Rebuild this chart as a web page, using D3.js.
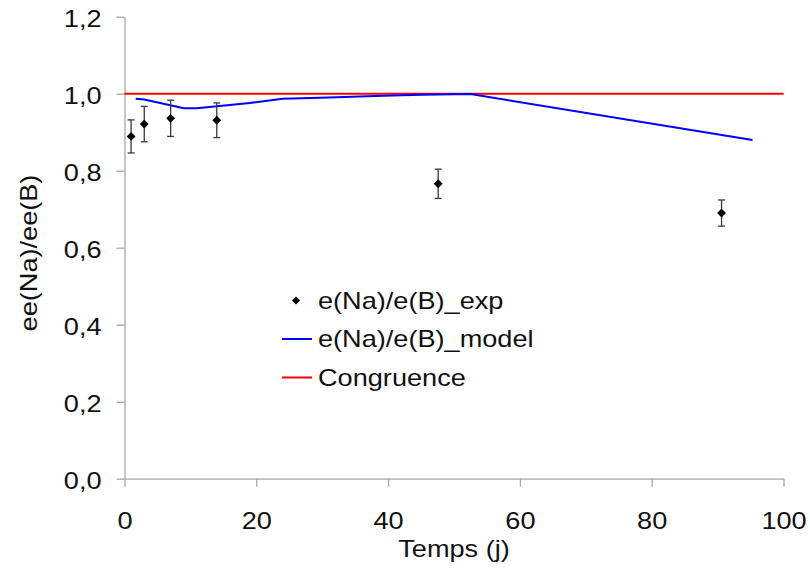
<!DOCTYPE html>
<html><head><meta charset="utf-8">
<script src="https://cdn.jsdelivr.net/npm/d3@7"></script>
<style>body{margin:0;background:#fff}svg{display:block}text{font-family:"Liberation Sans",Arial,sans-serif}</style>
</head><body>
<svg id="c" width="810" height="574"></svg>
<script>
const expX = [1, 3, 7, 14, 47.6, 90.6];
const expY = [0.889, 0.921, 0.936, 0.931, 0.766, 0.690];
const expErr = [0.043, 0.046, 0.047, 0.045, 0.038, 0.034];
const modelX = [1.7, 3, 9, 11, 19, 24, 31, 38, 45, 52.5, 95.3];
const modelY = [0.987, 0.985, 0.962, 0.962, 0.976, 0.987, 0.990, 0.994, 0.997, 0.999, 0.880];
const congX = [0, 100];
const congY = [1, 1];
const xTicks = [0, 20, 40, 60, 80, 100];
const yTicks = [0, 0.2, 0.4, 0.6, 0.8, 1.0, 1.2];
const legendLabels = ["e(Na)/e(B)_exp", "e(Na)/e(B)_model", "Congruence"];

const FS = 23, SX = 1.18;
const svg = d3.select("#c");
const x = d3.scaleLinear().domain([0, 100]).range([124.5, 783.5]);
const y = d3.scaleLinear().domain([0, 1.2]).range([478.7, 16.7]);
const fmt = d => d3.format(".1f")(d).replace(".", ",");

const xa = svg.append("g").attr("transform", `translate(0,${y(0)})`)
  .call(d3.axisBottom(x).tickValues(xTicks).tickSize(8).tickSizeOuter(0));
const ya = svg.append("g").attr("transform", `translate(${x(0)},0)`)
  .call(d3.axisLeft(y).tickValues(yTicks).tickFormat(fmt).tickSize(8).tickSizeOuter(0));
[xa, ya].forEach(a => {
  a.select(".domain").attr("stroke", "#a6a6a6").attr("stroke-width", 1.3);
  a.selectAll(".tick line").attr("stroke", "#a6a6a6").attr("stroke-width", 1.3);
  a.selectAll("text").attr("font-size", FS).attr("fill", "#111").attr("font-family", "Liberation Sans, Arial, sans-serif");
});
xa.selectAll("text").attr("y", 34).attr("dy", "0.71em").attr("transform", `scale(${SX},1)`);
ya.selectAll("text").attr("x", -23 / SX).attr("dy", "0.42em").attr("transform", `scale(${SX},1)`);

const line = d3.line().x(d => x(d[0])).y(d => y(d[1]));
svg.append("path").datum(congX.map((v, i) => [v, congY[i]])).attr("d", line)
  .attr("fill", "none").attr("stroke", "#ff0000").attr("stroke-width", 2);
svg.append("path").datum(modelX.map((v, i) => [v, modelY[i]])).attr("d", line)
  .attr("fill", "none").attr("stroke", "#0000ff").attr("stroke-width", 2);

const pts = expX.map((v, i) => ({x: v, y: expY[i], e: expErr[i]}));
const eb = svg.append("g").attr("stroke", "#3a3a3a").attr("stroke-width", 1.3);
pts.forEach(p => {
  eb.append("line").attr("x1", x(p.x)).attr("x2", x(p.x)).attr("y1", y(p.y + p.e)).attr("y2", y(p.y - p.e));
  [p.y + p.e, p.y - p.e].forEach(v => eb.append("line").attr("x1", x(p.x) - 3.5).attr("x2", x(p.x) + 3.5).attr("y1", y(v)).attr("y2", y(v)));
});
const diamond = d3.symbol().type(d3.symbolDiamond2).size(50);
svg.append("g").selectAll("path").data(pts).join("path")
  .attr("d", diamond).attr("transform", d => `translate(${x(d.x)},${y(d.y)})`).attr("fill", "#000");

// legend
const lg = svg.append("g");
const rowsY = [300.5, 339, 377.5];
lg.append("path").attr("d", d3.symbol().type(d3.symbolDiamond2).size(42)).attr("transform", `translate(296,${rowsY[0]})`).attr("fill", "#000");
lg.append("line").attr("x1", 282).attr("x2", 312).attr("y1", rowsY[1]).attr("y2", rowsY[1]).attr("stroke", "#0000ff").attr("stroke-width", 2);
lg.append("line").attr("x1", 282).attr("x2", 312).attr("y1", rowsY[2]).attr("y2", rowsY[2]).attr("stroke", "#ff0000").attr("stroke-width", 2);
legendLabels.forEach((t, i) => lg.append("text").attr("transform", `translate(318,${rowsY[i]}) scale(${SX},1)`).attr("dy", "0.36em")
  .attr("font-size", FS).attr("fill", "#111").text(t));

svg.append("text").attr("transform", `translate(${x(50)},557) scale(${SX},1)`).attr("text-anchor", "middle").attr("font-size", FS).attr("fill", "#111").text("Temps (j)");
svg.append("text").attr("transform", `translate(37,253) rotate(-90) scale(${SX},1)`).attr("text-anchor", "middle").attr("font-size", FS).attr("fill", "#111").text("ee(Na)/ee(B)");
</script>
</body></html>
